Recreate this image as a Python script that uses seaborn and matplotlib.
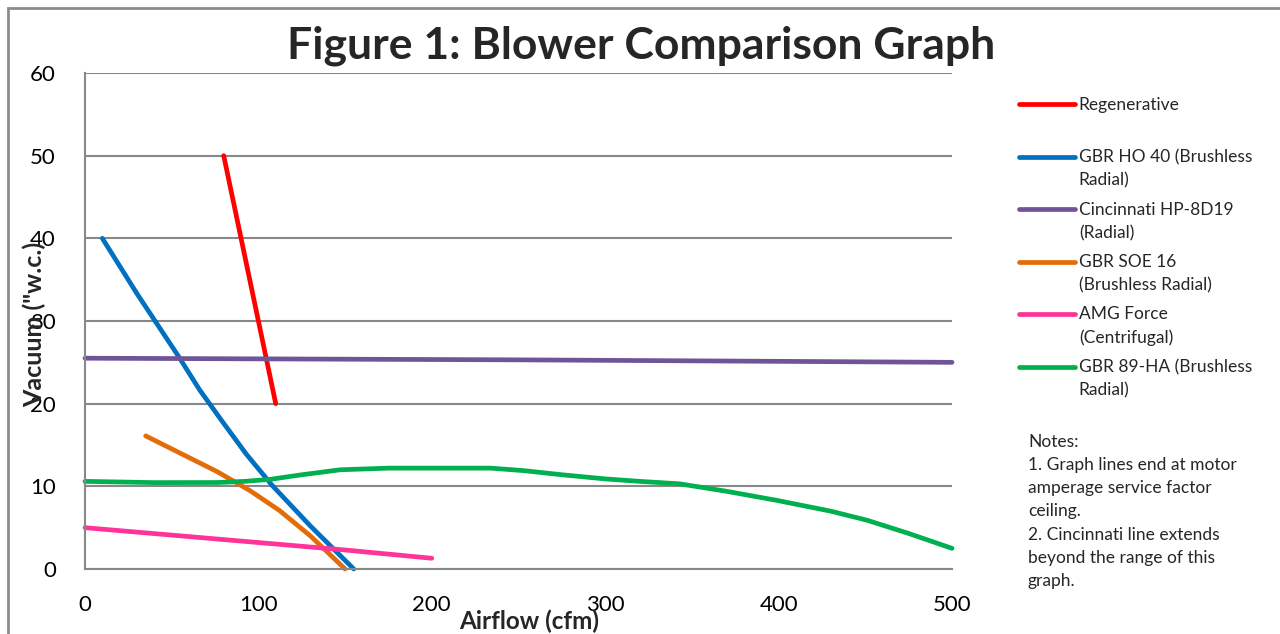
import matplotlib
matplotlib.use("Agg")
import matplotlib.pyplot as plt
import seaborn as sns
import pandas as pd
import numpy as np
from matplotlib.patches import Rectangle
from matplotlib.lines import Line2D

# ---- data ----
series_names = [
    "Regenerative",
    "GBR HO 40 (Brushless\nRadial)",
    "Cincinnati HP-8D19\n(Radial)",
    "GBR SOE 16\n(Brushless Radial)",
    "AMG Force\n(Centrifugal)",
    "GBR 89-HA (Brushless\nRadial)",
]
regen_x = [80, 110]
regen_y = [50, 20]
ho40_x = [10, 30, 54, 66, 79, 93, 108, 130, 155]
ho40_y = [40, 33.3, 25.7, 21.7, 17.9, 13.9, 10.1, 5.2, 0]
cinc_x = [0, 250, 500]
cinc_y = [25.5, 25.3, 25.0]
soe16_x = [35, 55, 76, 95, 112, 130, 150]
soe16_y = [16.1, 14.0, 11.8, 9.5, 7.1, 4.0, 0]
amg_x = [0, 50, 100, 150, 200]
amg_y = [5.0, 4.1, 3.2, 2.3, 1.3]
ga89_x = [0, 40, 76, 92, 107, 125, 147, 175, 200, 234, 253, 275, 300, 320, 343, 370, 399, 430, 451, 475, 500]
ga89_y = [10.6, 10.45, 10.46, 10.6, 10.85, 11.4, 12.0, 12.2, 12.2, 12.2, 11.9, 11.4, 10.9, 10.6, 10.3, 9.4, 8.3, 7.0, 5.9, 4.3, 2.5]
colors = ["#FF0000", "#0070C0", "#6F5597", "#E36C09", "#FF3399", "#00B050"]

x_ticks = [0, 100, 200, 300, 400, 500]
y_ticks = [0, 10, 20, 30, 40, 50, 60]
title = "Figure 1: Blower Comparison Graph"
xlabel = "Airflow (cfm)"
ylabel = "Vacuum (\"w.c.)"
notes = ("Notes:\n1. Graph lines end at motor\namperage service factor\nceiling.\n"
         "2. Cincinnati line extends\nbeyond the range of this\ngraph.")

xs = [regen_x, ho40_x, cinc_x, soe16_x, amg_x, ga89_x]
ys = [regen_y, ho40_y, cinc_y, soe16_y, amg_y, ga89_y]
frames = []
for name, x, y in zip(series_names, xs, ys):
    frames.append(pd.DataFrame({"x": x, "y": y, "series": name}))
df = pd.concat(frames, ignore_index=True)

# ---- plot ----
sns.set_theme(style="white")
plt.rcParams["font.family"] = ["Lato", "DejaVu Sans"]

fig = plt.figure(figsize=(12.8, 6.34), dpi=100)
ax = fig.add_axes([85/1280, 1-569/634, 867/1280, 496/634])

# figure border
fig.patches.append(Rectangle((8/1280, -0.5), 2.0, 1 - 8/634 + 0.5, transform=fig.transFigure,
                             fill=False, edgecolor="#8C8C8C", linewidth=2.0, zorder=0))

sns.lineplot(data=df, x="x", y="y", hue="series", hue_order=series_names,
             palette=colors, sort=False, estimator=None, units="series",
             linewidth=3.4, ax=ax, legend=False,
             solid_capstyle="round", solid_joinstyle="round")

ax.set_xlim(0, 500)
ax.set_ylim(0, 60)
ax.set_xticks(x_ticks)
ax.set_yticks(y_ticks)
ax.tick_params(axis="both", length=0, labelsize=16, colors="black")
ax.tick_params(axis="x", pad=19)
ax.tick_params(axis="y", pad=21)
ax.yaxis.grid(True, color="#888888", linewidth=1.5)
ax.xaxis.grid(False)
ax.set_axisbelow(True)
for s in ["top", "right"]:
    ax.spines[s].set_visible(False)
for s in ["left", "bottom"]:
    ax.spines[s].set_color("#888888")
    ax.spines[s].set_linewidth(1.5)
for ln in ax.get_lines():
    ln.set_clip_on(False)

ax.set_xlabel(xlabel, fontsize=17.5, fontweight="bold", va="center")
ax.xaxis.set_label_coords((529-85)/867, (569-621)/496)
ax.set_ylabel(ylabel, fontsize=18, fontweight="bold", va="center")
ax.yaxis.set_label_coords((34-85)/867, (569-324)/496)

fig.text(641/1280, 1-46/634, title, ha="center", va="center",
         fontsize=32, fontweight="bold")

# legend
handles = [Line2D([0], [0], color=c, linewidth=3.4, solid_capstyle="round") for c in colors]
labels = [series_names[0] + "\n "] + series_names[1:]
leg = fig.legend(handles, labels, loc="upper left",
                 bbox_to_anchor=(1012/1280, 1-90/634),
                 frameon=False, fontsize=12.5, handlelength=3.2, handletextpad=0.25,
                 labelspacing=0.75, borderaxespad=0)
for t in leg.get_texts():
    t.set_linespacing(1.55)
fig.canvas.draw()
for ln in leg.get_lines():
    yd = np.asarray(ln.get_ydata(), dtype=float)
    ln.set_ydata(yd + 9.0)

fig.text(1028/1280, 1-434/634, notes, ha="left", va="top", fontsize=12.5, linespacing=1.55)

fig.savefig("out.png", dpi=100)
